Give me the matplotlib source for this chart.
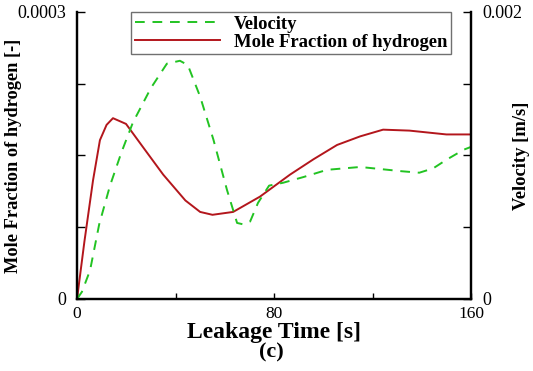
import matplotlib
matplotlib.use("Agg")
import matplotlib.pyplot as plt

# mole fraction of hydrogen (left axis)
t_h2 = [0, 3, 6.5, 9.3, 12, 14.6, 19.9, 27, 35, 44, 50, 55, 63.4, 74.3, 86.5, 96, 105.6, 115, 124.3, 135, 150, 160]
x_h2 = [0, 0.00006, 0.000124, 0.000166, 0.000182, 0.000189, 0.000183, 0.000158, 0.00013, 0.000103,
        0.000091, 0.000088, 0.000091, 0.000107, 0.00013, 0.000146, 0.000161, 0.00017, 0.000177,
        0.000176, 0.000172, 0.000172]

# velocity (right axis)
t_vel = [0, 2, 5.3, 9, 13.4, 18, 22.7, 30, 36.5, 41.8, 45, 50, 55.4, 60.9, 65, 67.5, 70.3, 73.5, 78,
         83.7, 92, 101.5, 115, 132, 139, 144.6, 150, 157, 160]
vel = [0, 0.00005, 0.0002, 0.00052, 0.00079, 0.00102, 0.00123, 0.00147, 0.00164, 0.00166, 0.00163,
       0.00141, 0.00111, 0.00076, 0.00053, 0.00052, 0.00054, 0.00067, 0.00079, 0.00081, 0.00085,
       0.0009, 0.00092, 0.00089, 0.00088, 0.00091, 0.00097, 0.00104, 0.00106]

plt.rcParams['font.family'] = ['Liberation Serif', 'DejaVu Serif']

fig = plt.figure(figsize=(5.33, 3.71), dpi=100)
ax = fig.add_axes([0.1445, 0.1941, 0.7392, 0.7736])
ax2 = ax.twinx()

l1, = ax2.plot(t_vel, vel, color='#22c322', lw=1.4, dashes=(5, 4), label='Velocity')
l2, = ax.plot(t_h2, x_h2, color='#b3161c', lw=1.4, label='Mole Fraction of hydrogen')

ax.set_xlim(0, 160)
ax.set_ylim(0, 0.0003)
ax2.set_ylim(0, 0.002)

ax.set_xticks([0, 40, 80, 120, 160])
ax.set_xticklabels(['0', '', '80', '', '160'])
ax.set_yticks([0, 0.000075, 0.00015, 0.000225, 0.0003])
ax.set_yticklabels(['0', '', '', '', '0.0003'])
ax2.set_yticks([0, 0.0005, 0.001, 0.0015, 0.002])
ax2.set_yticklabels(['0', '', '', '', '0.002'])

for a in (ax, ax2):
    a.spines['top'].set_visible(False)
    for s in a.spines.values():
        s.set_linewidth(1.6)
    a.tick_params(direction='in', length=6, width=1, labelsize=13, pad=8)
ax.tick_params(axis='x', length=4, pad=5, labelsize=12.5)

ax.set_ylabel('Mole Fraction of hydrogen [-]', fontsize=13.2, fontweight='bold')
ax.yaxis.set_label_coords(-0.14, 0.5)
ax2.set_ylabel('Velocity [m/s]', fontsize=13.4, fontweight='bold')
ax2.yaxis.set_label_coords(1.107, 0.5)
ax.set_xlabel('Leakage Time [s]', fontsize=17, fontweight='bold')
ax.xaxis.set_label_coords(0.5, -0.08)
fig.text(0.51, 0.05, '(c)', fontsize=16, fontweight='bold', ha='center', va='center')

leg = ax2.legend(handles=[l1, l2], loc='upper left', bbox_to_anchor=(0.137, 1.0),
                 fancybox=False, framealpha=1, edgecolor='#707070', borderaxespad=0,
                 handlelength=4.6, prop={'weight': 'bold', 'size': 13.4},
                 borderpad=0.2, labelspacing=0.05, handletextpad=0.75)
leg.get_frame().set_linewidth(1)

fig.savefig('out.png', dpi=100)
